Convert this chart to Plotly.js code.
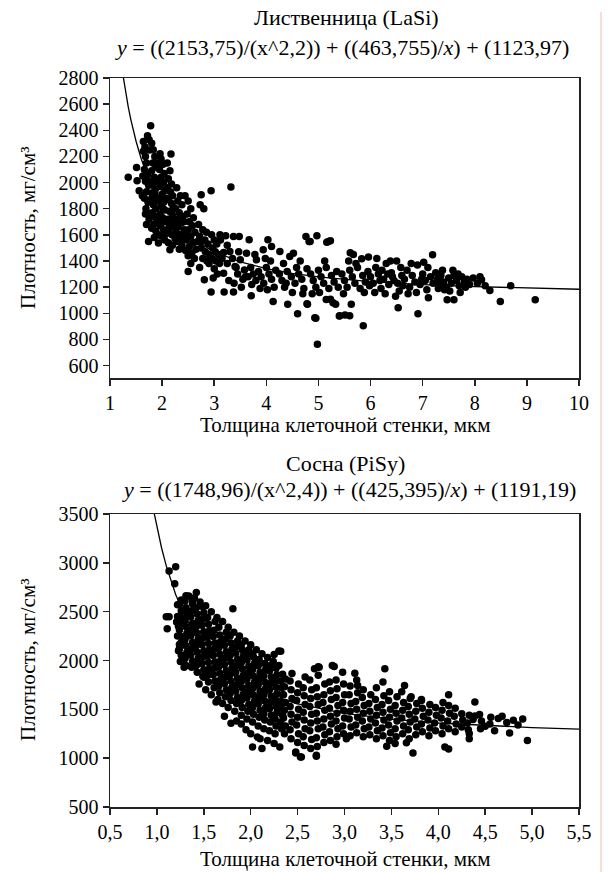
<!DOCTYPE html>
<html>
<head>
<meta charset="utf-8">
<script src="https://cdn.plot.ly/plotly-3.0.1.min.js"></script>
<style>
html,body{margin:0;padding:0;background:#fff;}
#chart{width:614px;height:872px;}
</style>
</head>
<body>
<div id="chart"></div>
<script>
// ---------- LaSi ----------
const lasiThickness = [
 1.35,1.51,1.52,1.56,1.64,1.67,1.72,1.75,1.78,1.64,
 1.68,1.70,1.66,1.72,1.68,1.74,1.70,1.66,1.73,1.69,
 1.72,1.75,1.70,1.74,1.68,1.62,1.63,1.83,1.80,1.86,
 1.82,1.88,1.80,1.85,1.90,1.82,1.87,1.80,1.84,1.90,
 1.83,1.88,1.81,1.86,1.90,1.84,1.80,1.88,1.93,1.85,
 1.93,1.78,1.79,1.96,1.98,2.02,1.95,2.04,1.98,2.03,
 1.96,2.05,2.00,1.95,2.03,1.98,2.05,1.96,2.01,2.06,
 1.97,2.03,2.08,1.99,2.05,2.00,2.17,2.10,2.15,2.12,
 2.18,2.10,2.16,2.20,2.12,2.18,2.22,2.14,2.20,2.11,
 2.17,2.23,2.13,2.19,2.25,2.15,2.12,2.20,2.28,2.35,
 2.30,2.38,2.26,2.33,2.40,2.28,2.36,2.30,2.42,2.27,
 2.35,2.40,2.30,2.38,2.33,2.26,2.44,2.45,2.50,2.55,
 2.48,2.60,2.52,2.58,2.50,2.63,2.55,2.48,2.60,2.52,
 2.65,2.57,2.50,2.62,2.50,2.55,2.68,2.45,2.75,2.73,
 2.80,2.70,2.78,2.85,2.72,2.82,2.88,2.75,2.83,2.90,
 2.78,2.86,2.81,2.72,2.90,2.76,2.94,2.94,2.95,3.00,
 3.05,2.97,3.02,3.08,2.96,3.03,3.10,3.00,3.06,3.12,
 2.98,3.11,3.22,3.37,3.48,3.18,3.30,3.18,3.32,3.19,
 3.37,3.25,3.35,3.42,3.50,3.40,3.58,3.62,3.28,3.45,
 3.55,3.15,3.25,3.52,3.60,3.38,3.47,3.71,3.67,3.81,
 3.94,4.03,4.10,3.70,3.75,3.80,3.85,3.90,3.95,4.00,
 4.05,4.10,4.15,3.72,3.88,4.02,4.18,3.65,3.98,4.13,
 4.08,3.78,4.26,4.45,4.52,4.41,4.60,4.79,4.76,4.82,
 4.25,4.30,4.35,4.40,4.48,4.55,4.62,4.68,4.72,4.78,
 4.33,4.50,4.65,4.58,4.70,4.38,4.97,4.84,5.16,5.23,
 5.19,4.95,4.98,4.93,5.40,5.23,5.33,5.28,5.15,4.85,
 4.90,4.95,5.00,5.05,5.10,5.15,5.20,5.25,5.30,5.35,
 4.88,5.02,5.12,5.38,4.78,5.41,5.60,5.51,5.86,5.61,
 5.67,5.83,5.96,5.45,5.50,5.55,5.60,5.65,5.70,5.75,
 5.80,5.85,5.90,5.95,5.48,5.63,5.72,5.88,5.58,5.98,
 6.00,6.05,6.10,6.15,6.20,6.25,6.30,6.35,6.40,6.45,
 6.50,6.55,6.53,6.60,6.08,6.22,6.38,6.48,6.58,6.12,
 6.28,6.42,6.52,6.18,6.33,6.65,6.70,6.75,6.80,6.85,
 6.91,6.90,6.95,7.00,7.05,7.11,7.19,7.10,7.15,7.20,
 7.25,7.30,6.72,6.88,7.02,6.78,7.08,6.62,7.28,6.98,
 7.35,7.40,7.45,7.47,7.50,7.55,7.60,7.60,7.65,7.70,
 7.75,7.80,7.85,7.90,7.97,7.38,7.52,7.68,7.42,7.58,
 7.72,7.82,7.33,8.13,8.05,8.20,8.29,8.49,8.69,9.16,
 8.10,1.76,1.92,2.08,2.24,1.86,2.02,2.14,2.32,2.42
];
const lasiDensity = [
 2040,2116,2014,1937,2315,2272,2358,2328,2435,2240,
 2200,2150,2100,2060,2010,1980,1930,1880,1850,1800,
 1761,1720,1680,1550,1760,1900,2050,2251,2300,2200,
 2150,2120,2090,2040,2010,1980,1950,1920,1890,1860,
 1830,1800,1770,1740,1710,1680,1650,1630,1600,1580,
 1537,1870,2010,2221,2180,2140,2100,2070,2040,2000,
 1970,1940,1910,1880,1850,1820,1790,1760,1730,1700,
 1670,1640,1610,1590,1560,1700,2218,2150,2090,2030,
 1990,1960,1930,1900,1870,1840,1810,1780,1750,1720,
 1690,1660,1630,1600,1570,1486,1540,1520,1960,1900,
 1860,1830,1800,1770,1740,1720,1690,1660,1640,1620,
 1600,1570,1550,1520,1490,1680,1899,1610,1860,1800,
 1760,1730,1700,1670,1640,1620,1590,1560,1540,1510,
 1490,1460,1440,1420,1320,1380,1550,1480,1907,1830,
 1800,1680,1640,1620,1590,1560,1530,1500,1470,1450,
 1420,1400,1256,1350,1380,1550,1937,1162,1600,1560,
 1530,1500,1470,1450,1420,1400,1380,1340,1300,1560,
 1270,1600,1593,1588,1588,1465,1473,1307,1966,1162,
 1162,1380,1420,1350,1409,1358,1332,1460,1250,1300,
 1260,1420,1520,1200,1280,1230,1470,1134,1562,1409,
 1486,1562,1511,1350,1300,1250,1320,1280,1230,1350,
 1300,1260,1200,1220,1190,1180,1330,1280,1420,1090,
 1400,1450,1473,1435,1460,1070,996,1070,1588,1549,
 1300,1250,1200,1320,1280,1230,1300,1260,1190,1340,
 1380,1160,1400,1350,1150,1230,1593,1550,1544,1555,
 1549,963,764,966,980,1108,1070,1081,1105,1300,
 1250,1200,1330,1280,1230,1350,1190,1290,1240,1320,
 1150,1160,1400,1200,1073,982,982,987,905,1463,
 1450,1417,1430,1300,1250,1200,1330,1280,1230,1350,
 1190,1290,1240,1320,1150,1070,1380,1160,1400,1210,
 1280,1230,1350,1300,1190,1260,1380,1220,1310,1250,
 1400,1170,1043,1290,1160,1330,1400,1130,1350,1420,
 1150,1280,1230,1250,1300,1260,1330,1200,1290,1240,
 997,1370,1220,1300,1250,1119,1448,1350,1280,1230,
 1310,1190,1150,1160,1390,1380,1180,1210,1260,1260,
 1290,1240,1200,1104,1270,1230,1104,1290,1250,1210,
 1280,1240,1260,1220,1270,1330,1170,1300,1180,1330,
 1160,1200,1220,1257,1230,1210,1175,1091,1211,1104,
 1280,2250,2150,1880,1720,1920,1800,1660,1580,1700
];
const lasiCurveX = [1.23,1.25,1.3,1.35,1.4,1.45,1.5,1.6,1.7,1.75,1.85,2,2.25,2.5,2.75,3,3.5,4,4.5,5,6,7,8,9,10];
const lasiCurveY = [2867,2813,2690,2580,2482,2395,2316,2180,2067,2018,1931,1825,1692,1597,1526,1471,1393,1342,1306,1279,1243,1220,1204,1193,1184];
const lasiTickVals = [1,2,3,4,5,6,7,8,9,10];
const lasiTickText = ['1','2','3','4','5','6','7','8','9','10'];
const lasiYTicks = [600,800,1000,1200,1400,1600,1800,2000,2200,2400,2600,2800];

// ---------- PiSy ----------
const pisyThickness = [
 1.13,1.20,1.19,1.10,1.13,1.11,1.21,1.42,1.81,2.25,
 2.30,1.22,1.24,1.27,1.29,1.40,1.50,1.63,1.79,1.90,
 2.02,2.12,2.31,2.48,2.53,2.70,2.07,1.31,1.38,1.49,
 1.25,1.26,1.24,1.26,1.25,1.24,1.26,1.25,1.26,1.24,
 1.31,1.30,1.32,1.31,1.30,1.32,1.31,1.30,1.32,1.31,1.30,
 1.37,1.38,1.36,1.37,1.38,1.36,1.37,1.38,1.36,1.37,1.38,
 1.43,1.42,1.44,1.43,1.42,1.44,1.43,1.42,1.44,1.43,1.42,
 1.49,1.50,1.48,1.49,1.50,1.48,1.49,1.50,1.48,1.49,1.50,
 1.55,1.54,1.56,1.55,1.54,1.56,1.55,1.54,1.56,1.55,1.54,
 1.61,1.62,1.60,1.61,1.62,1.60,1.61,1.62,1.60,1.61,1.62,
 1.67,1.66,1.68,1.67,1.66,1.68,1.67,1.66,1.68,1.67,1.66,
 1.73,1.74,1.72,1.73,1.74,1.72,1.73,1.74,1.72,1.73,1.74,
 1.79,1.78,1.80,1.79,1.78,1.80,1.79,1.78,1.80,1.79,1.78,
 1.85,1.86,1.84,1.85,1.86,1.84,1.85,1.86,1.84,1.85,1.86,
 1.91,1.90,1.92,1.91,1.90,1.92,1.91,1.90,1.92,1.91,1.90,
 1.97,1.98,1.96,1.97,1.98,1.96,1.97,1.98,1.96,1.97,1.98,
 2.03,2.02,2.04,2.03,2.02,2.04,2.03,2.02,2.04,2.03,2.02,
 2.09,2.10,2.08,2.09,2.10,2.08,2.09,2.10,2.08,2.09,
 2.15,2.14,2.16,2.15,2.14,2.16,2.15,2.14,2.16,2.15,
 2.21,2.22,2.20,2.21,2.22,2.20,2.21,2.22,2.20,2.21,
 2.27,2.26,2.28,2.27,2.26,2.28,2.27,2.26,2.28,2.27,
 2.33,2.32,2.34,2.33,2.32,2.34,2.33,2.32,2.34,
 1.45,1.52,1.58,1.65,1.70,1.76,1.83,1.90,1.96,2.02,
 2.08,2.14,2.20,2.26,1.72,1.85,2.00,2.18,2.25,1.95,2.10,
 1.34,1.40,1.46,1.52,1.58,1.64,1.70,1.76,1.82,1.88,
 1.94,2.00,2.06,2.12,2.18,2.24,2.30,
 1.22,1.23,1.22,1.23,1.26,
 2.32,2.68,2.72,2.89,2.98,3.11,3.43,3.14,3.64,4.11,
 4.39,3.82,3.71,2.73,2.87,2.91,2.44,
 2.48,2.54,2.70,2.91,3.02,3.45,3.54,3.66,3.73,4.07,
 4.11,4.33,4.33,4.76,4.95,
 4.64,4.68,4.80,4.73,4.50,4.39,4.44,4.25,4.37,
 2.36,2.37,2.35,2.36,2.37,2.35,2.36,2.37,
 2.43,2.42,2.44,2.43,2.42,2.44,2.43,2.42,
 2.50,2.51,2.49,2.50,2.51,2.49,2.50,2.51,
 2.57,2.56,2.58,2.57,2.56,2.58,2.57,2.56,2.58,
 2.64,2.65,2.63,2.64,2.65,2.63,2.64,2.65,2.63,
 2.71,2.70,2.72,2.71,2.70,2.72,2.71,2.70,2.72,
 2.78,2.79,2.77,2.78,2.79,2.77,2.78,2.79,
 2.85,2.84,2.86,2.85,2.84,2.86,2.85,2.84,
 2.92,2.93,2.91,2.92,2.93,2.91,2.92,
 2.99,2.98,3.00,2.99,2.98,3.00,2.99,
 3.06,3.07,3.05,3.06,3.07,3.05,3.06,
 3.13,3.12,3.14,3.13,3.12,3.14,3.13,
 3.20,3.21,3.19,3.20,3.21,3.19,3.20,
 3.27,3.26,3.28,3.27,3.26,3.28,
 3.34,3.35,3.33,3.34,3.35,3.33,3.34,
 3.41,3.40,3.42,3.41,3.40,3.42,3.41,
 3.48,3.49,3.47,3.48,3.49,3.47,3.48,
 3.55,3.54,3.56,3.55,3.54,3.56,
 3.62,3.63,3.61,3.62,3.63,3.61,
 3.69,3.68,3.70,3.69,3.68,3.70,
 3.76,3.77,3.75,3.76,3.77,
 3.83,3.82,3.84,3.83,3.82,
 3.90,3.91,3.89,3.90,3.91,
 3.97,3.96,3.98,3.97,
 4.04,4.05,4.03,4.04,4.05,
 4.11,4.10,4.12,4.11,
 4.18,4.19,4.17,4.18,
 4.25,4.26,4.32,4.31,4.33,4.45,4.46,4.55,4.56,4.60,4.85,4.90
];
const pisyDensity = [
 2917,2961,2785,2448,2448,2326,2393,2696,2530,2061,
 2098,2571,2163,2000,1931,1958,1829,1574,1357,1350,
 1115,1100,1115,1064,1012,1030,1217,2662,2611,2550,
 1990,2055,2120,2185,2250,2315,2380,2445,2510,2575,
 1950,2020,2085,2150,2215,2280,2345,2410,2475,2540,2610,
 1930,1990,2055,2120,2185,2250,2315,2380,2445,2510,2580,
 1880,1950,2020,2085,2150,2215,2280,2345,2410,2475,2540,
 1840,1905,1970,2035,2100,2165,2230,2295,2360,2425,2490,
 1780,1850,1915,1980,2045,2110,2175,2240,2305,2370,2440,
 1720,1790,1855,1920,1985,2050,2115,2180,2245,2310,2400,
 1670,1740,1805,1870,1935,2000,2065,2130,2195,2260,2340,
 1630,1700,1765,1830,1895,1960,2025,2090,2155,2220,2290,
 1590,1660,1725,1790,1855,1920,1985,2050,2115,2180,2250,
 1560,1620,1685,1750,1815,1880,1945,2010,2075,2140,2200,
 1520,1590,1655,1720,1785,1850,1915,1980,2045,2110,2160,
 1480,1550,1615,1680,1745,1810,1875,1940,2005,2070,2110,
 1450,1515,1580,1645,1710,1775,1840,1905,1970,2035,2070,
 1420,1490,1555,1620,1685,1750,1815,1880,1945,2010,
 1390,1455,1520,1585,1650,1715,1780,1845,1910,1970,
 1370,1440,1505,1570,1635,1700,1765,1830,1895,1950,
 1330,1400,1465,1530,1595,1660,1725,1790,1855,1920,
 1300,1370,1440,1510,1580,1650,1720,1790,1860,
 1760,1700,1650,1600,1560,1520,1480,1440,1400,1370,
 1330,1300,1280,1250,1430,1380,1250,1180,1150,1290,1200,
 2660,2640,2600,2560,2500,2440,2400,2340,2290,2250,
 2200,2160,2110,2070,2030,1990,1950,
 2450,2350,2250,2100,2620,
 2094,1915,1937,1938,1880,1870,1915,1745,1745,1650,
 1574,1600,1628,1931,1948,1800,1866,
 1054,1013,1020,1143,1200,1122,1150,1157,1054,1115,
 1093,1252,1200,1258,1180,
 1405,1429,1387,1365,1326,1432,1446,1456,1395,
 1250,1330,1410,1490,1570,1650,1730,1810,
 1200,1290,1370,1450,1530,1610,1700,1790,
 1160,1250,1340,1420,1500,1590,1670,1760,
 1130,1220,1300,1390,1470,1550,1640,1720,1830,
 1100,1190,1280,1360,1450,1530,1610,1700,1800,
 1120,1210,1300,1380,1460,1550,1630,1720,1850,
 1160,1240,1320,1400,1490,1570,1650,1760,
 1180,1270,1350,1430,1510,1600,1690,1780,
 1220,1300,1380,1460,1540,1620,1710,
 1250,1330,1410,1490,1570,1650,1760,
 1230,1320,1400,1480,1560,1650,1740,
 1260,1340,1420,1500,1580,1670,1800,
 1220,1300,1380,1460,1540,1620,1700,
 1240,1320,1400,1480,1560,1650,
 1200,1280,1360,1440,1520,1600,1720,
 1230,1310,1390,1470,1550,1640,1780,
 1180,1260,1340,1420,1500,1590,1680,
 1220,1300,1380,1460,1540,1630,
 1250,1330,1410,1490,1570,1680,
 1200,1290,1370,1450,1530,1610,
 1240,1320,1400,1480,1560,
 1270,1350,1430,1510,1590,
 1230,1310,1390,1470,1550,
 1280,1360,1440,1520,
 1250,1330,1410,1490,1570,
 1300,1380,1460,1540,
 1270,1350,1430,1510,
 1320,1390,1290,1360,1440,1300,1380,1350,1420,1280,1340,1400
];
const pisyCurveX = [0.97,1.0,1.05,1.1,1.15,1.2,1.3,1.4,1.5,1.6,1.75,2.0,2.25,2.5,3.0,3.5,4.0,4.5,5.0,5.5];
const pisyCurveY = [3512,3366,3152,2969,2812,2675,2450,2275,2136,2023,1891,1735,1630,1555,1458,1399,1360,1333,1313,1298];
const pisyTickVals = [0.5,1.0,1.5,2.0,2.5,3.0,3.5,4.0,4.5,5.0,5.5];
const pisyTickText = ['0,5','1,0','1,5','2,0','2,5','3,0','3,5','4,0','4,5','5,0','5,5'];
const pisyYTicks = [500,1000,1500,2000,2500,3000,3500];

// ---------- texts ----------
const titleLasi = 'Лиственница (LaSi)';
const eqLasi = '<i>y</i> = ((2153,75)/(x^2,2)) + ((463,755)/<i>x</i>) + (1123,97)';
const titlePisy = 'Сосна (PiSy)';
const eqPisy = '<i>y</i> = ((1748,96)/(x^2,4)) + ((425,395)/<i>x</i>) + (1191,19)';
const xTitle = 'Толщина клеточной стенки, мкм';
const yTitle = 'Плотность, мг/см³';

const chartFont = 'Times New Roman';
const markerStyle = {color: '#000', size: 7.5};
const lineStyle = {color: '#000', width: 1.3};

const traces = [
  {x: lasiThickness, y: lasiDensity, type: 'scatter', mode: 'markers', marker: markerStyle, xaxis: 'x', yaxis: 'y', hoverinfo: 'skip'},
  {x: lasiCurveX, y: lasiCurveY, type: 'scatter', mode: 'lines', line: lineStyle, xaxis: 'x', yaxis: 'y', hoverinfo: 'skip'},
  {x: pisyThickness, y: pisyDensity, type: 'scatter', mode: 'markers', marker: markerStyle, xaxis: 'x2', yaxis: 'y2', hoverinfo: 'skip'},
  {x: pisyCurveX, y: pisyCurveY, type: 'scatter', mode: 'lines', line: lineStyle, xaxis: 'x2', yaxis: 'y2', hoverinfo: 'skip'}
];

function axisBase(extra) {
  const a = {
    showline: true, linecolor: '#222', linewidth: 1.5, mirror: true,
    ticks: 'outside', ticklen: 6, tickwidth: 1.5, tickcolor: '#222',
    showgrid: false, zeroline: false,
    tickfont: {family: chartFont, size: 20, color: '#000'}
  };
  for (const k in extra) a[k] = extra[k];
  return a;
}

const figW = 614, figH = 872, mL = 110, mR = 35, mT = 78, mB = 65;
const plotW = figW - mL - mR, plotH = figH - mT - mB;
const toPaperX = v => (v - mL) / plotW;
const toPaperY = v => (figH - mB - v) / plotH;

function ann(text, x, y, size, angle) {
  return {text: text, xref: 'paper', yref: 'paper', x: toPaperX(x), y: toPaperY(y), xanchor: 'center', yanchor: 'middle',
          showarrow: false, textangle: angle || 0, font: {family: chartFont, size: size, color: '#000'}};
}

const figLayout = {
  width: figW, height: figH,
  margin: {l: mL, r: mR, t: mT, b: mB},
  paper_bgcolor: '#fff', plot_bgcolor: '#fff',
  showlegend: false,
  font: {family: chartFont, size: 20, color: '#000'},
  xaxis: axisBase({domain: [0, 1], anchor: 'y', range: [1, 10], tickvals: lasiTickVals, ticktext: lasiTickText}),
  yaxis: axisBase({domain: [toPaperY(378), 1], anchor: 'x', range: [505, 2800], tickvals: lasiYTicks}),
  xaxis2: axisBase({domain: [0, 1], anchor: 'y2', range: [0.5, 5.5], tickvals: pisyTickVals, ticktext: pisyTickText}),
  yaxis2: axisBase({domain: [0, toPaperY(514)], anchor: 'x2', range: [500, 3500], tickvals: pisyYTicks}),
  annotations: [
    ann(titleLasi, 346, 18, 22),
    ann(eqLasi, 342, 47, 22),
    ann(xTitle, 345, 425, 21),
    ann(yTitle, 28, 228, 21, -90),
    ann(titlePisy, 345, 463, 22),
    ann(eqPisy, 349, 490, 22),
    ann(xTitle, 345, 859, 21),
    ann(yTitle, 28, 660, 21, -90)
  ],
  shapes: [
    {type: 'line', xref: 'paper', yref: 'paper', x0: toPaperX(601), x1: toPaperX(601), y0: toPaperY(12), y1: toPaperY(872),
     line: {color: '#f5b8b8', width: 1}}
  ]
};

Plotly.newPlot('chart', traces, figLayout, {staticPlot: true});
</script>
</body>
</html>
